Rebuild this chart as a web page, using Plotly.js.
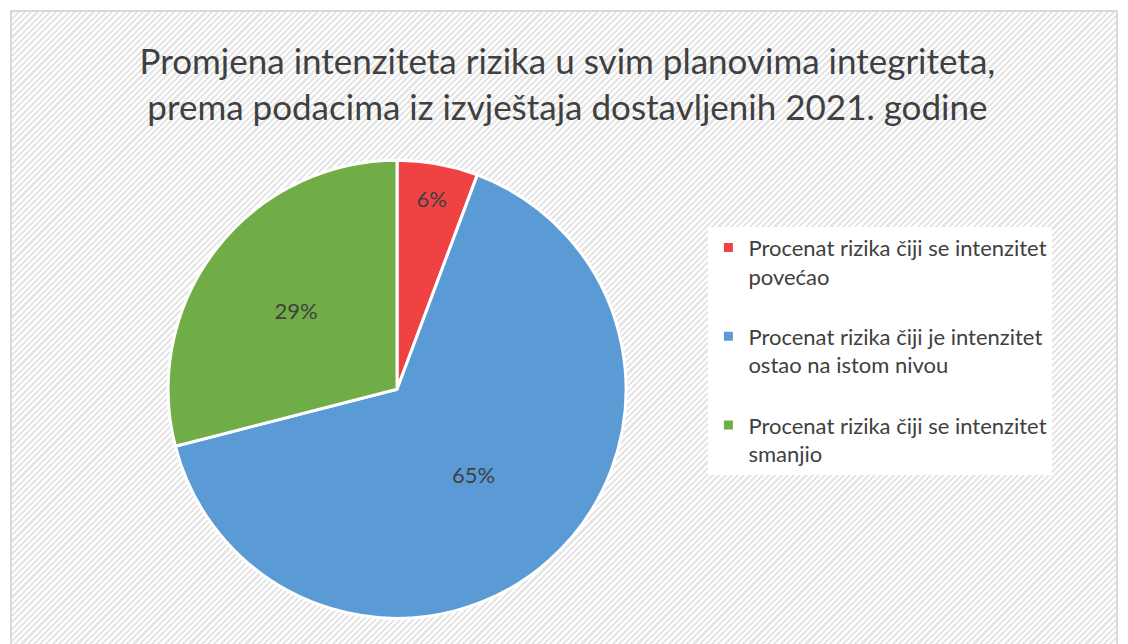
<!DOCTYPE html>
<html>
<head>
<meta charset="utf-8">
<script src="https://cdn.plot.ly/plotly-3.0.1.min.js"></script>
<style>
  html, body { margin: 0; padding: 0; background: #ffffff; width: 1128px; height: 644px; overflow: hidden; }
  #frame {
    position: absolute; left: 10px; top: 10px; width: 1108px; height: 660px;
    border: 2px solid #d9d9d9; box-sizing: border-box;
    background: repeating-linear-gradient(-45deg, #ffffff 0px, #ffffff 2.2px, #e6e6e6 2.2px, #e6e6e6 4.4px);
  }
  #chart { position: absolute; left: 0; top: 0; width: 1128px; height: 644px; }
</style>
</head>
<body>
<div id="frame"></div>
<div id="chart"></div>
<script>
const categories = [
  "Procenat rizika čiji se intenzitet<br>povećao",
  "Procenat rizika čiji je intenzitet<br>ostao na istom nivou",
  "Procenat rizika čiji se intenzitet<br>smanjio"
];
const values = [5.7, 65.3, 29.0];
const colors = ["#EF4242", "#5B9BD5", "#70AD47"];
const chartTitle = "Promjena intenziteta rizika u svim planovima integriteta,<br>prema podacima iz izvještaja dostavljenih 2021. godine";

const trace = {
  type: "pie",
  labels: categories.map((c, i) => i < categories.length - 1 ? c + "<br> " : c),
  values: values,
  sort: false,
  direction: "clockwise",
  rotation: 0,
  marker: { colors: colors, line: { color: "#ffffff", width: 3 } },
  texttemplate: "%{percent:.0%}",
  textposition: "inside",
  insidetextorientation: "horizontal",
  textfont: { family: "Lato, 'Open Sans', sans-serif", size: 22, color: "#404040" },
  hoverinfo: "label+percent",
  domain: { x: [0.149, 0.555], y: [0.04, 0.751] }
};

const layout = {
  width: 1128, height: 644,
  margin: { l: 0, r: 0, t: 0, b: 0 },
  paper_bgcolor: "rgba(0,0,0,0)",
  plot_bgcolor: "rgba(0,0,0,0)",
  title: {
    text: chartTitle,
    font: { family: "Lato, 'Open Sans', sans-serif", size: 35, color: "#404040" },
    x: 0.503, xanchor: "center",
    y: 0.885, yanchor: "top"
  },
  showlegend: true,
  legend: {
    x: 0.628, xanchor: "left",
    y: 0.648, yanchor: "top",
    bgcolor: "#ffffff",
    font: { family: "Lato, 'Open Sans', sans-serif", size: 22, color: "#404040" },
    valign: "top",
    itemwidth: 30,
    traceorder: "normal"
  }
};

Plotly.newPlot("chart", [trace], layout, { displayModeBar: false, staticPlot: true });
</script>
</body>
</html>
